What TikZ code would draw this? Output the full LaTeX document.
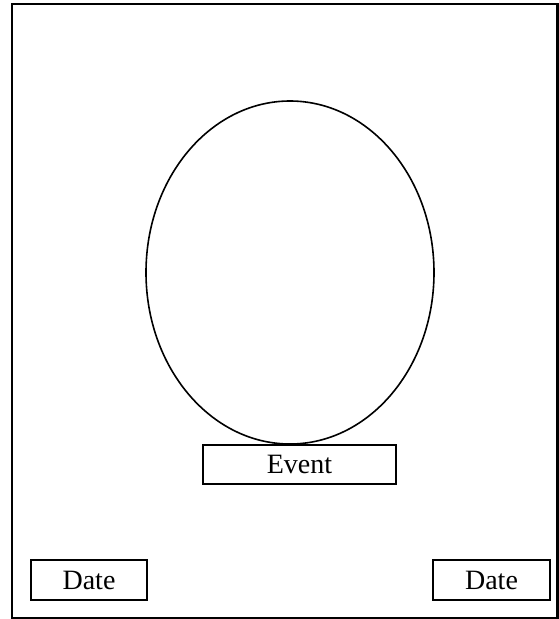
\documentclass[tikz,border=0pt]{standalone}
\usepackage{fontspec}
\setmainfont{Liberation Serif}
\usetikzlibrary{shapes.geometric}
\begin{document}
\begin{tikzpicture}[x=1pt,y=-1pt,
  frame/.style={draw, line width=2.4pt, inner sep=0pt, outer sep=0pt},
  labelbox/.style={draw, line width=2pt, inner sep=0pt, outer sep=0pt,
    font=\fontsize{28}{32}\selectfont},
  oval/.style={draw, ellipse, line width=1.6pt, inner sep=0pt, outer sep=0pt}]
\useasboundingbox (0,0) rectangle (559,619);
\node[frame, minimum width=545.5pt, minimum height=614pt] (outer) at (284.75,311) {};
\node[oval, minimum width=288pt, minimum height=343pt] (face) at (290,272.5) {};
\node[labelbox, minimum width=193pt, minimum height=39pt] (event) at (299.5,464.5) {Event};
\node[labelbox, minimum width=116pt, minimum height=40pt] (dateL) at (89,580) {Date};
\node[labelbox, minimum width=117pt, minimum height=40pt] (dateR) at (491.5,580) {Date};
\end{tikzpicture}
\end{document}
